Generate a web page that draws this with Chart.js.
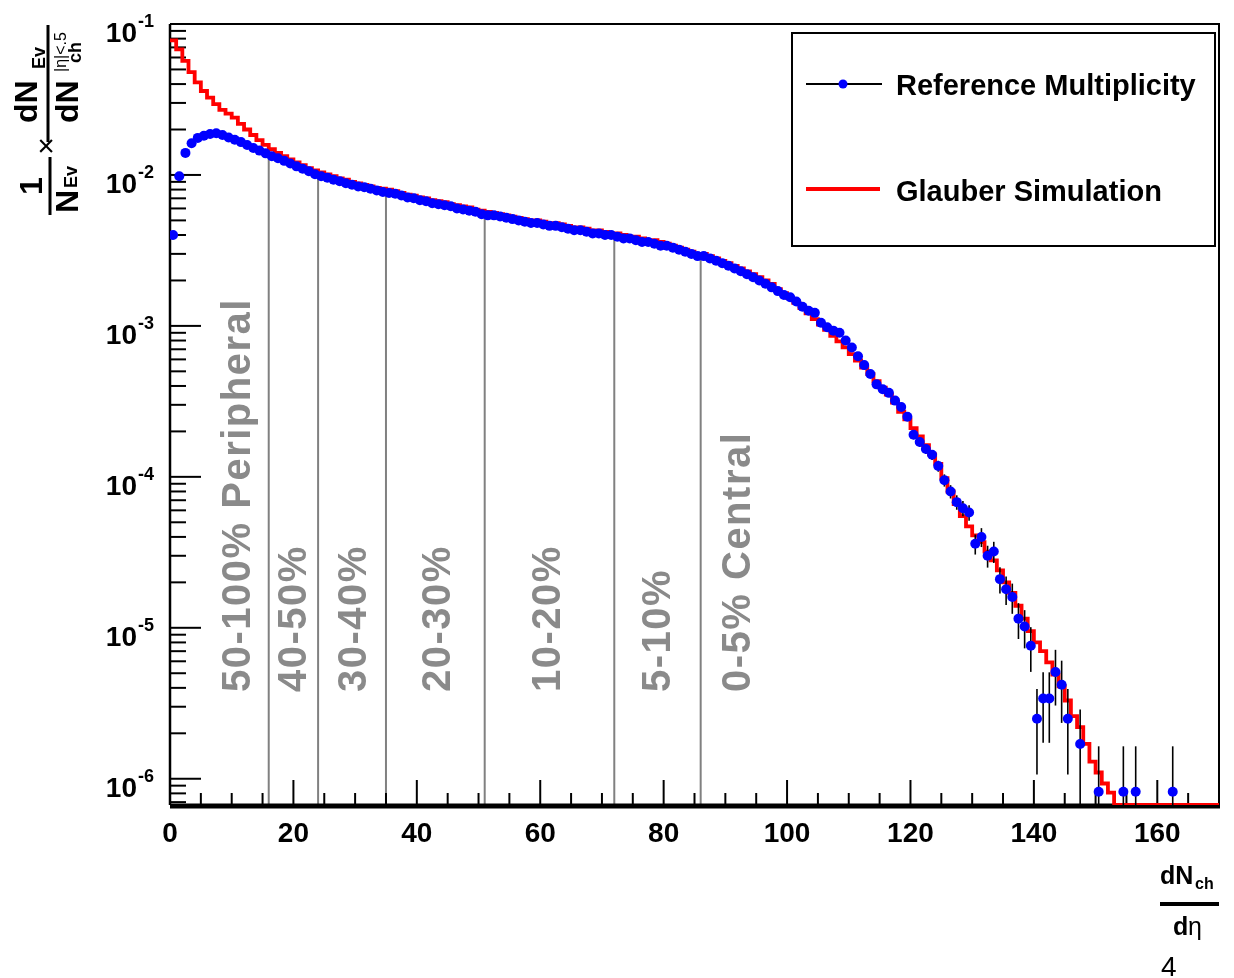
<!DOCTYPE html>
<html>
<head>
<meta charset="utf-8">
<title>Reference Multiplicity vs Glauber Simulation</title>
<script src="https://cdn.jsdelivr.net/npm/chart.js@4.4.1/dist/chart.umd.min.js"></script>
<style>
  html, body { margin: 0; padding: 0; background: #fff; }
  canvas { display: block; }
</style>
</head>
<body>
<canvas id="myChart" width="1234" height="978"></canvas>
<script>
// DATA, ONE VALUE PER UNIT BIN OF dNch/deta (BIN n COVERS n..n+1)
const binStart = 0;
const binCount = 170;

// GLAUBER SIMULATION (RED HISTOGRAM), 0 = EMPTY BIN
const glauber = [
  0.078, 0.068, 0.057, 0.048, 0.041, 0.036, 0.0325, 0.0295, 0.027, 0.0255,
  0.024, 0.0218, 0.0200, 0.0184, 0.0170, 0.0158, 0.0148, 0.0140, 0.0133, 0.0127,
  0.0121, 0.0116, 0.0111, 0.0107, 0.0104, 0.0101, 0.0098, 0.0095, 0.0093, 0.0090,
  0.0088, 0.0086, 0.0084, 0.0082, 0.0081, 0.0080, 0.0078, 0.0076, 0.0074, 0.0073,
  0.0071, 0.0070, 0.0068, 0.0067, 0.0066, 0.0064, 0.0063, 0.0062, 0.0061, 0.0059,
  0.0058, 0.0057, 0.0056, 0.0055, 0.0054, 0.0053, 0.0052, 0.0051, 0.0050, 0.0050,
  0.0049, 0.0048, 0.0048, 0.0047, 0.0046, 0.0045, 0.0045, 0.0044, 0.0043, 0.0043,
  0.0042, 0.0041, 0.0041, 0.0040, 0.0039, 0.0039, 0.0038, 0.0037, 0.0037, 0.0036,
  0.0035, 0.0034, 0.0033, 0.0032, 0.0031, 0.0030, 0.0030, 0.0029, 0.0028, 0.0027,
  0.0026, 0.0025, 0.0024, 0.0023, 0.0022, 0.0021, 0.0020, 0.0019, 0.00175, 0.00165,
  0.00153, 0.00142, 0.00131, 0.00121, 0.00111, 0.00102, 0.00094, 0.00086, 0.00079, 0.00072,
  0.00065, 0.00059, 0.00053, 0.00048, 0.00043, 0.00039, 0.00035, 0.00031, 0.00027, 0.00024,
  2.1e-4, 1.85e-4, 1.62e-4, 1.41e-4, 1.22e-4, 9.8e-5, 8.0e-5, 6.6e-5, 5.5e-5, 4.7e-5,
  4.1e-5, 3.7e-5, 3.2e-5, 2.8e-5, 2.4e-5, 2.0e-5, 1.7e-5, 1.4e-5, 1.15e-5, 9.5e-6,
  8.0e-6, 7.0e-6, 5.9e-6, 4.9e-6, 4.1e-6, 3.3e-6, 2.6e-6, 2.2e-6, 1.7e-6, 1.3e-6,
  1.1e-6, 9.3e-7, 8.1e-7, 0, 0, 0, 0, 0, 0, 0,
  0, 0, 0, 0, 0, 0, 0, 0, 0, 0
];

// REFERENCE MULTIPLICITY (BLUE POINTS), null = NO ENTRY
const refMult = [
  0.0040, 0.0098, 0.0140, 0.0162, 0.0176, 0.0182, 0.0187, 0.0189, 0.0184, 0.0177,
  0.0171, 0.0165, 0.0158, 0.0151, 0.0145, 0.0139, 0.0133, 0.0129, 0.0124, 0.0119,
  0.0114, 0.0110, 0.0106, 0.0101, 0.0098, 0.0096, 0.0093, 0.0091, 0.0088, 0.0086,
  0.0084, 0.0083, 0.0081, 0.0079, 0.0077, 0.0076, 0.0075, 0.0073, 0.0071, 0.0070,
  0.0068, 0.0067, 0.0065, 0.0064, 0.0063, 0.0062, 0.0060, 0.0059, 0.0058, 0.0057,
  0.0055, 0.0054, 0.0054, 0.0053, 0.0052, 0.0051, 0.0050, 0.0049, 0.0048, 0.0048,
  0.0047, 0.0046, 0.0046, 0.0045, 0.0044, 0.0043, 0.0043, 0.0042, 0.0041, 0.0041,
  0.0040, 0.0040, 0.0039, 0.0038, 0.0038, 0.0037, 0.0036, 0.0036, 0.0035, 0.0034,
  0.0034, 0.0033, 0.0032, 0.0031, 0.0030, 0.0029, 0.0029, 0.0028, 0.0027, 0.0026,
  0.0025, 0.0024, 0.0023, 0.0022, 0.0021, 0.0020, 0.0019, 0.0018, 0.0017, 0.0016,
  0.00155, 0.00145, 0.00134, 0.00126, 0.00122, 0.00105, 0.00098, 0.00093, 0.00090, 0.00080,
  0.00072, 0.00063, 0.00055, 0.00048, 0.00041, 0.00038, 0.00036, 0.00032, 0.00029, 0.00025,
  1.9e-4, 1.7e-4, 1.53e-4, 1.40e-4, 1.18e-4, 9.5e-5, 8.0e-5, 6.8e-5, 6.2e-5, 5.8e-5,
  3.6e-5, 4.0e-5, 3.0e-5, 3.2e-5, 2.1e-5, 1.8e-5, 1.6e-5, 1.15e-5, 1.02e-5, 7.6e-6,
  2.5e-6, 3.4e-6, 3.4e-6, 5.1e-6, 4.2e-6, 2.5e-6, null, 1.7e-6, null, null,
  8.2e-7, null, null, null, 8.2e-7, null, 8.2e-7, null, null, null,
  null, null, 8.2e-7, null, null, null, null, null, null, null
];
// WEIGHT OF ONE EVENT (LOWEST FILLED BIN), USED FOR POISSON ERROR BARS
const oneEvent = 8.2e-7;

// CENTRALITY CUTS AND CLASS LABELS
const cutEdges = [16, 24, 35, 51, 72, 86];
const classLabels = ['50-100% Peripheral', '40-50%', '30-40%', '20-30%', '10-20%', '5-10%', '0-5% Central'];
const classLabelX = [13.0, 22.0, 31.8, 45.4, 63.2, 81.0, 94.0];

// AXES
const xMin = 0, xMax = 170;
const xTicks = [0, 20, 40, 60, 80, 100, 120, 140, 160];
const yMin = 6.7e-7, yMax = 0.1;
const yDecades = [-1, -2, -3, -4, -5, -6];

const FONT = '"Liberation Sans", Arial, Helvetica, sans-serif';

// BUILD POINTS FOR CHART JS
const glauberPoints = glauber.map((v, i) => ({ x: binStart + i, y: v > 0 ? v : yMin }));
glauberPoints.push({ x: binStart + binCount, y: glauberPoints[binCount - 1].y });
const refPoints = [];
refMult.forEach((v, i) => { if (v !== null) refPoints.push({ x: binStart + i + 0.5, y: v }); });

function seg(ctx, x1, y1, x2, y2) {
    ctx.beginPath();
    ctx.moveTo(x1, y1);
    ctx.lineTo(x2, y2);
    ctx.stroke();
}

// ROOT STYLE DECORATION: CUT LINES, AXES, TITLES, LEGEND
const rootStyle = {
    id: 'rootStyle',
    beforeDatasetsDraw(chart) {
        const { ctx, chartArea: a, scales: { x, y } } = chart;
        ctx.save();
        // CENTRALITY CUT LINES UP TO THE DATA
        ctx.strokeStyle = '#808080';
        ctx.lineWidth = 2;
        cutEdges.forEach(c => {
            const px = x.getPixelForValue(c);
            seg(ctx, px, a.bottom, px, y.getPixelForValue(refMult[c]));
        });
        // ROTATED CLASS LABELS
        ctx.fillStyle = '#8a8a8a';
        ctx.font = 'bold 40px ' + FONT;
        ctx.letterSpacing = '1.5px';
        ctx.textAlign = 'left';
        ctx.textBaseline = 'alphabetic';
        classLabels.forEach((t, i) => {
            ctx.save();
            ctx.translate(x.getPixelForValue(classLabelX[i]), 692);
            ctx.rotate(-Math.PI / 2);
            ctx.fillText(t, 0, 0);
            ctx.restore();
        });
        ctx.letterSpacing = '0px';

        // FRAME AND AXES
        ctx.strokeStyle = '#000';
        ctx.lineWidth = 2;
        ctx.beginPath();
        ctx.moveTo(a.left, a.top);
        ctx.lineTo(a.right, a.top);
        ctx.lineTo(a.right, a.bottom);
        ctx.stroke();
        ctx.lineWidth = 2.5;
        seg(ctx, a.left, a.top, a.left, a.bottom);
        ctx.lineWidth = 5;
        seg(ctx, a.left, a.bottom + 1, a.right + 1, a.bottom + 1);

        // X TICKS POINTING INTO THE FRAME
        ctx.lineWidth = 2;
        for (let v = xMin; v <= xMax; v += 5) {
            const px = x.getPixelForValue(v);
            const len = v % 20 === 0 ? 25 : 12;
            seg(ctx, px, a.bottom, px, a.bottom - len);
        }
        // Y TICKS, MAJOR PER DECADE AND MINOR 2..9
        for (let d = -7; d <= -1; d++) {
            for (let m = 1; m <= 9; m++) {
                const v = m * Math.pow(10, d);
                if (v < yMin || v > yMax * 1.0001) continue;
                const py = y.getPixelForValue(v);
                seg(ctx, a.left, py, a.left + (m === 1 ? 31 : 16), py);
            }
        }
        ctx.restore();
    },
    beforeDatasetDraw(chart, args) {
        if (args.index !== 1) return;
        // ERROR BARS OF THE REFERENCE MULTIPLICITY
        const { ctx, chartArea: a, scales: { x, y } } = chart;
        ctx.save();
        ctx.beginPath();
        ctx.rect(a.left, a.top, a.right - a.left, a.bottom - a.top);
        ctx.clip();
        ctx.strokeStyle = '#000';
        ctx.lineWidth = 1.6;
        refPoints.forEach(p => {
            const err = Math.sqrt(p.y * oneEvent);
            const px = x.getPixelForValue(p.x);
            const py = y.getPixelForValue(p.y);
            const lo = p.y - err > yMin ? y.getPixelForValue(p.y - err) : a.bottom;
            seg(ctx, px, y.getPixelForValue(p.y + err), px, lo);
            seg(ctx, x.getPixelForValue(p.x - 0.5), py, x.getPixelForValue(p.x + 0.5), py);
        });
        ctx.restore();
    },
    afterDraw(chart) {
        const { ctx, scales: { y } } = chart;
        ctx.save();
        ctx.fillStyle = '#000';
        ctx.strokeStyle = '#000';
        ctx.textBaseline = 'alphabetic';

        // Y TICK LABELS 10^n
        yDecades.forEach(d => {
            const py = y.getPixelForValue(Math.pow(10, d));
            ctx.font = 'bold 28px ' + FONT;
            ctx.textAlign = 'right';
            ctx.fillText('10', 137, py + 18);
            ctx.font = 'bold 18px ' + FONT;
            ctx.textAlign = 'left';
            ctx.fillText('-' + Math.abs(d), 138, py + 3);
        });

        // Y TITLE, ROTATED
        ctx.save();
        ctx.translate(0, 265);
        ctx.rotate(-Math.PI / 2);
        ctx.lineWidth = 3;
        ctx.font = 'bold 32px ' + FONT;
        ctx.textAlign = 'center';
        ctx.fillText('1', 79, 42);
        seg(ctx, 50, 50, 108, 50);
        ctx.textAlign = 'left';
        ctx.fillText('N', 52, 78);
        ctx.font = 'bold 18px ' + FONT;
        ctx.fillText('Ev', 77, 77);
        ctx.font = '30px ' + FONT;
        ctx.textAlign = 'center';
        ctx.textBaseline = 'middle';
        ctx.fillText('\u00d7', 119, 48);
        ctx.textBaseline = 'alphabetic';
        ctx.textAlign = 'left';
        seg(ctx, 123, 48, 240, 48);
        ctx.font = 'bold 32px ' + FONT;
        ctx.fillText('dN', 142, 37);
        ctx.fillText('dN', 142, 78);
        ctx.font = 'bold 18px ' + FONT;
        ctx.fillText('Ev', 196, 45);
        ctx.fillText('ch', 202, 81);
        ctx.font = '16px ' + FONT;
        ctx.fillText('|\u03b7|<.5', 193, 66);
        ctx.restore();

        // X TITLE
        ctx.textAlign = 'left';
        ctx.font = 'bold 25px ' + FONT;
        ctx.fillText('dN', 1160, 884);
        ctx.font = 'bold 16px ' + FONT;
        ctx.fillText('ch', 1195, 889);
        ctx.fillRect(1160, 902, 59, 4);
        ctx.font = 'bold 25px ' + FONT;
        ctx.fillText('d', 1173, 935);
        ctx.font = '25px ' + FONT;
        ctx.fillText('\u03b7', 1188, 935);

        // LEGEND BOX
        ctx.lineWidth = 2;
        ctx.strokeRect(792, 33, 423, 213);
        seg(ctx, 806, 84, 882, 84);
        ctx.fillStyle = '#0000ff';
        ctx.beginPath();
        ctx.arc(843, 84, 4.5, 0, Math.PI * 2);
        ctx.fill();
        ctx.strokeStyle = '#ff0000';
        ctx.lineWidth = 4;
        seg(ctx, 806, 189, 880, 189);
        ctx.fillStyle = '#000';
        ctx.font = 'bold 29px ' + FONT;
        ctx.fillText('Reference Multiplicity', 896, 95);
        ctx.fillText('Glauber Simulation', 896, 201);

        // PAGE NUMBER
        ctx.font = '28px ' + FONT;
        ctx.fillText('4', 1161, 976);
        ctx.restore();
    }
};

const myChart = new Chart(document.getElementById('myChart').getContext('2d'), {
    type: 'line',
    data: {
        datasets: [
            {
                label: 'Glauber Simulation',
                data: glauberPoints,
                borderColor: '#ff0000',
                borderWidth: 3.8,
                stepped: 'before',
                pointRadius: 0,
                fill: false,
                order: 2
            },
            {
                label: 'Reference Multiplicity',
                type: 'scatter',
                data: refPoints,
                showLine: false,
                pointRadius: 5,
                pointBackgroundColor: '#0000ff',
                pointBorderWidth: 0,
                order: 1
            }
        ]
    },
    options: {
        responsive: false,
        devicePixelRatio: 1,
        animation: false,
        layout: { padding: { top: 24, right: 15, left: 0, bottom: 0 } },
        plugins: { legend: { display: false }, tooltip: { enabled: false } },
        scales: {
            x: {
                type: 'linear',
                min: xMin,
                max: xMax,
                grid: { display: false, drawTicks: false },
                border: { display: false },
                afterBuildTicks: s => { s.ticks = xTicks.map(v => ({ value: v })); },
                afterFit: s => { s.height = 978 - 805; },
                ticks: {
                    padding: 12,
                    color: '#000',
                    maxRotation: 0,
                    autoSkip: false,
                    font: { family: FONT, size: 28, weight: 'bold' }
                }
            },
            y: {
                type: 'logarithmic',
                min: yMin,
                max: yMax,
                grid: { display: false, drawTicks: false },
                border: { display: false },
                ticks: { display: false },
                afterFit: s => { s.width = 170; }
            }
        }
    },
    plugins: [rootStyle]
});
</script>
</body>
</html>
